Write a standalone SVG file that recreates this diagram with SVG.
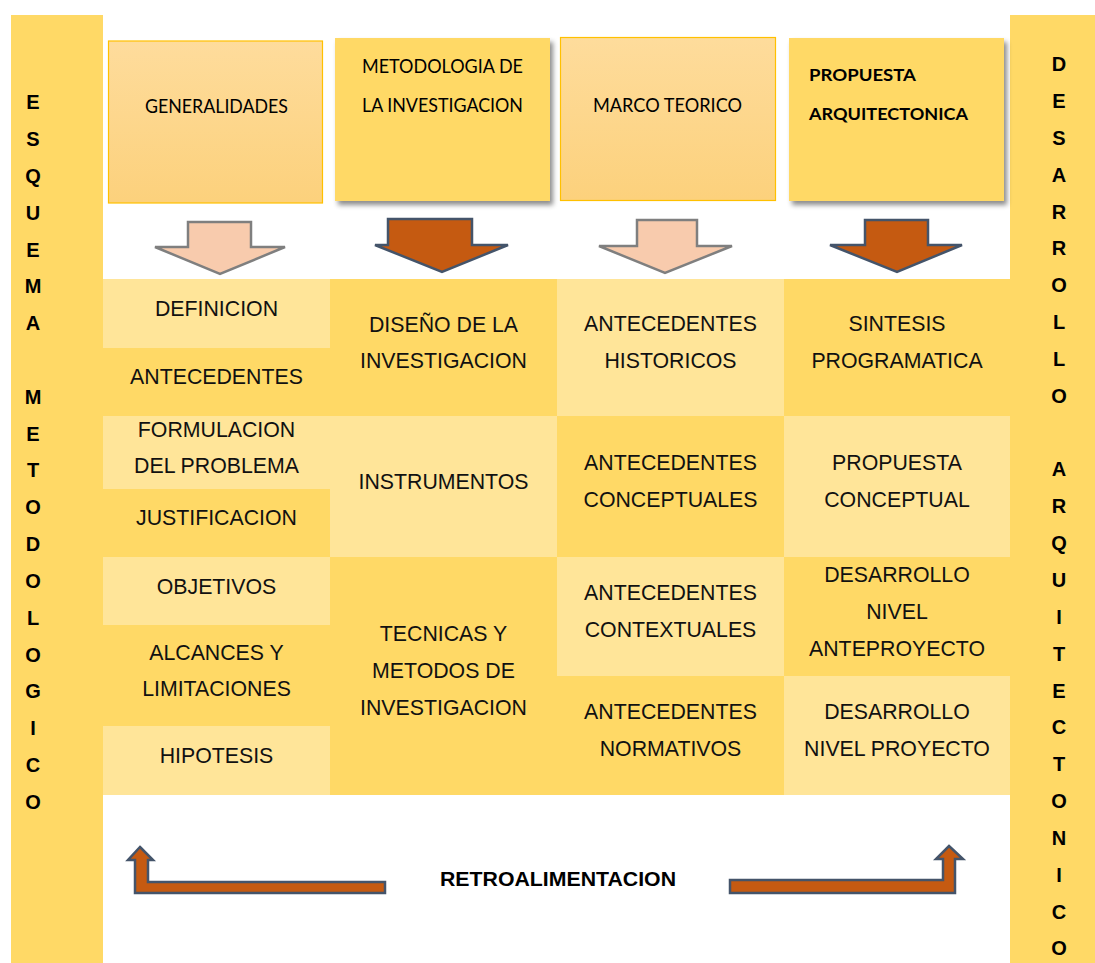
<svg xmlns="http://www.w3.org/2000/svg" width="1095" height="963" viewBox="0 0 1095 963">
<defs>
<linearGradient id="gOr" x1="0" y1="0" x2="0" y2="1">
<stop offset="0" stop-color="#FEDC9C"/>
<stop offset="1" stop-color="#FCD17C"/>
</linearGradient>
<filter id="sh" x="-10%" y="-10%" width="125%" height="130%">
<feDropShadow dx="3" dy="4" stdDeviation="2.5" flood-color="#000" flood-opacity="0.45"/>
</filter>
</defs>
<style>
.bar{fill:#FFD966}
.dk{fill:#FFD966}
.lt{fill:#FFE599}
.hdrA{fill:url(#gOr);stroke:#FFC000;stroke-width:1.2}
.hdrB{fill:#FFD966}
.ht{font-family:Lato,"Open Sans",sans-serif;font-size:20px;fill:#000}
.hb{font-family:Lato,"Open Sans",sans-serif;font-size:17px;font-weight:bold;fill:#000}
.ct{font-family:"Liberation Sans",Arial,sans-serif;font-size:21.3px;fill:#111;text-anchor:middle}
.vl{font-family:"Liberation Sans",Arial,sans-serif;font-size:20px;font-weight:bold;fill:#000;text-anchor:middle}
.ra{font-family:"Liberation Sans",Arial,sans-serif;font-size:20px;font-weight:bold;fill:#000}
.arL{fill:#F8CBAD;stroke:#7F7F7F;stroke-width:2.5}
.arD{fill:#C55A11;stroke:#44546A;stroke-width:2.5}
</style>
<rect width="1095" height="963" fill="#FFFFFF"/>

<g id="bar-left">
<rect class="bar" x="11" y="15" width="92" height="948"/>
<text class="vl" x="33"><tspan x="33" y="109">E</tspan><tspan x="33" y="146">S</tspan><tspan x="33" y="183">Q</tspan><tspan x="33" y="219.5">U</tspan><tspan x="33" y="256.5">E</tspan><tspan x="33" y="293">M</tspan><tspan x="33" y="330">A</tspan><tspan x="33" y="403.5">M</tspan><tspan x="33" y="440.5">E</tspan><tspan x="33" y="477">T</tspan><tspan x="33" y="514">O</tspan><tspan x="33" y="551">D</tspan><tspan x="33" y="587.5">O</tspan><tspan x="33" y="624.5">L</tspan><tspan x="33" y="661.5">O</tspan><tspan x="33" y="698">G</tspan><tspan x="33" y="735">I</tspan><tspan x="33" y="772">C</tspan><tspan x="33" y="809">O</tspan></text>
</g>

<g id="bar-right">
<rect class="bar" x="1010" y="15" width="85" height="948"/>
<text class="vl" x="1059"><tspan x="1059" y="71">D</tspan><tspan x="1059" y="108">E</tspan><tspan x="1059" y="145">S</tspan><tspan x="1059" y="181.5">A</tspan><tspan x="1059" y="218.5">R</tspan><tspan x="1059" y="255">R</tspan><tspan x="1059" y="292">O</tspan><tspan x="1059" y="329">L</tspan><tspan x="1059" y="366">L</tspan><tspan x="1059" y="402.5">O</tspan><tspan x="1059" y="476">A</tspan><tspan x="1059" y="513">R</tspan><tspan x="1059" y="550">Q</tspan><tspan x="1059" y="587">U</tspan><tspan x="1059" y="623.5">I</tspan><tspan x="1059" y="660.5">T</tspan><tspan x="1059" y="697.5">E</tspan><tspan x="1059" y="734">C</tspan><tspan x="1059" y="771">T</tspan><tspan x="1059" y="808">O</tspan><tspan x="1059" y="845">N</tspan><tspan x="1059" y="881.5">I</tspan><tspan x="1059" y="918.5">C</tspan><tspan x="1059" y="955">O</tspan></text>
</g>

<g id="hdr-generalidades">
<rect class="hdrA" x="108.5" y="41" width="214" height="162"/>
<text class="ht" x="145" y="113" textLength="143" lengthAdjust="spacingAndGlyphs">GENERALIDADES</text>
</g>
<g id="hdr-metodologia">
<rect class="hdrB" x="335" y="38" width="215" height="163" filter="url(#sh)"/>
<text class="ht" x="362" y="73" textLength="161" lengthAdjust="spacingAndGlyphs">METODOLOGIA DE</text>
<text class="ht" x="362" y="112" textLength="161" lengthAdjust="spacingAndGlyphs">LA INVESTIGACION</text>
</g>
<g id="hdr-marco">
<rect class="hdrA" x="560.5" y="37.5" width="215" height="163"/>
<text class="ht" x="593" y="112" textLength="149" lengthAdjust="spacingAndGlyphs">MARCO TEORICO</text>
</g>
<g id="hdr-propuesta">
<rect class="hdrB" x="789" y="38" width="215" height="163" filter="url(#sh)"/>
<text class="hb" x="809" y="81" textLength="107" lengthAdjust="spacingAndGlyphs">PROPUESTA</text>
<text class="hb" x="809" y="120" textLength="159" lengthAdjust="spacingAndGlyphs">ARQUITECTONICA</text>
</g>

<g id="connectors">
<path class="arL" d="M188,222 L251,222 L251,247 L285,247 L220,274 L155,247 L188,247 Z"/>
<path class="arD" d="M388,219 L472,219 L472,245 L508,245 L442,272 L375,245 L388,245 Z"/>
<path class="arL" d="M637,220 L697,220 L697,246 L732,246 L665,273 L599,246 L637,246 Z"/>
<path class="arD" d="M865,220 L928,220 L928,245 L962,245 L897,272 L830,245 L865,245 Z"/>
<path class="arD" d="M140,847 L153,860 L148,860 L148,882 L385,882 L385,893 L135,893 L135,860 L128,860 Z"/>
<path class="arD" d="M949,846 L963,859 L955,859 L955,893 L730,893 L730,880 L943,880 L943,859 L936,859 Z"/>
</g>

<g id="col-generalidades">
<rect class="lt" x="103" y="279" width="227" height="69"/>
<rect class="dk" x="103" y="348" width="227" height="68"/>
<rect class="lt" x="103" y="416" width="227" height="73"/>
<rect class="dk" x="103" y="489" width="227" height="68"/>
<rect class="lt" x="103" y="557" width="227" height="68"/>
<rect class="dk" x="103" y="625" width="227" height="101"/>
<rect class="lt" x="103" y="726" width="227" height="69"/>
<text class="ct" x="216.5" y="316">DEFINICION</text>
<text class="ct" x="216.5" y="384">ANTECEDENTES</text>
<text class="ct" x="216.5" y="437">FORMULACION</text>
<text class="ct" x="216.5" y="473">DEL PROBLEMA</text>
<text class="ct" x="216.5" y="525">JUSTIFICACION</text>
<text class="ct" x="216.5" y="594">OBJETIVOS</text>
<text class="ct" x="216.5" y="660">ALCANCES Y</text>
<text class="ct" x="216.5" y="696">LIMITACIONES</text>
<text class="ct" x="216.5" y="763">HIPOTESIS</text>
</g>

<g id="col-metodologia">
<rect class="dk" x="330" y="279" width="227" height="137"/>
<rect class="lt" x="330" y="416" width="227" height="141"/>
<rect class="dk" x="330" y="557" width="227" height="238"/>
<text class="ct" x="443.5" y="332">DISEÑO DE LA</text>
<text class="ct" x="443.5" y="368">INVESTIGACION</text>
<text class="ct" x="443.5" y="489">INSTRUMENTOS</text>
<text class="ct" x="443.5" y="641">TECNICAS Y</text>
<text class="ct" x="443.5" y="678">METODOS DE</text>
<text class="ct" x="443.5" y="715">INVESTIGACION</text>
</g>

<g id="col-marco">
<rect class="lt" x="557" y="279" width="227" height="137"/>
<rect class="dk" x="557" y="416" width="227" height="141"/>
<rect class="lt" x="557" y="557" width="227" height="119"/>
<rect class="dk" x="557" y="676" width="227" height="119"/>
<text class="ct" x="670.5" y="331">ANTECEDENTES</text>
<text class="ct" x="670.5" y="368">HISTORICOS</text>
<text class="ct" x="670.5" y="470">ANTECEDENTES</text>
<text class="ct" x="670.5" y="507">CONCEPTUALES</text>
<text class="ct" x="670.5" y="600">ANTECEDENTES</text>
<text class="ct" x="670.5" y="637">CONTEXTUALES</text>
<text class="ct" x="670.5" y="719">ANTECEDENTES</text>
<text class="ct" x="670.5" y="756">NORMATIVOS</text>
</g>

<g id="col-propuesta">
<rect class="dk" x="784" y="279" width="226" height="137"/>
<rect class="lt" x="784" y="416" width="226" height="141"/>
<rect class="dk" x="784" y="557" width="226" height="119"/>
<rect class="lt" x="784" y="676" width="226" height="119"/>
<text class="ct" x="897" y="331">SINTESIS</text>
<text class="ct" x="897" y="368">PROGRAMATICA</text>
<text class="ct" x="897" y="470">PROPUESTA</text>
<text class="ct" x="897" y="507">CONCEPTUAL</text>
<text class="ct" x="897" y="582">DESARROLLO</text>
<text class="ct" x="897" y="619">NIVEL</text>
<text class="ct" x="897" y="656">ANTEPROYECTO</text>
<text class="ct" x="897" y="719">DESARROLLO</text>
<text class="ct" x="897" y="756">NIVEL PROYECTO</text>
</g>

<g id="retroalimentacion">
<text class="ra" x="440" y="886" textLength="236" lengthAdjust="spacingAndGlyphs">RETROALIMENTACION</text>
</g>
</svg>
